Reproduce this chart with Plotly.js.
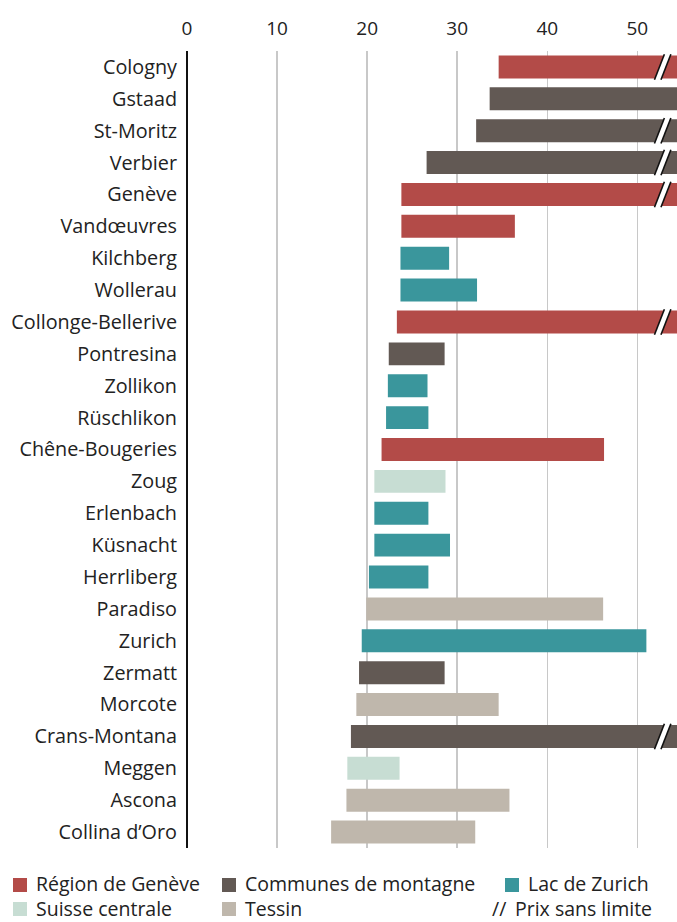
<!DOCTYPE html>
<html>
<head>
<meta charset="utf-8">
<script src="https://cdn.plot.ly/plotly-3.0.1.min.js"></script>
<style>
  html, body { margin: 0; padding: 0; background: #fff; }
  #chart { width: 677px; height: 922px; }
</style>
</head>
<body>
<div id="chart"></div>
<script>
// ---------- DATA ----------
const cities = ["Cologny", "Gstaad", "St-Moritz", "Verbier", "Genève", "Vandœuvres", "Kilchberg",
  "Wollerau", "Collonge-Bellerive", "Pontresina", "Zollikon", "Rüschlikon", "Chêne-Bougeries",
  "Zoug", "Erlenbach", "Küsnacht", "Herrliberg", "Paradiso", "Zurich", "Zermatt", "Morcote",
  "Crans-Montana", "Meggen", "Ascona", "Collina d’Oro"];
const regions = ["geneve", "montagne", "montagne", "montagne", "geneve", "geneve", "zurich",
  "zurich", "geneve", "montagne", "zurich", "zurich", "geneve",
  "centrale", "zurich", "zurich", "zurich", "tessin", "zurich", "montagne", "tessin",
  "montagne", "centrale", "tessin", "tessin"];
const lowValues = [34.6, 33.6, 32.1, 26.6, 23.8, 23.8, 23.7,
  23.7, 23.3, 22.4, 22.3, 22.1, 21.6,
  20.8, 20.8, 20.8, 20.2, 19.9, 19.4, 19.1, 18.8,
  18.2, 17.8, 17.7, 16.0];
// null = "Prix sans limite"
const highValues = [null, 56.0, null, null, null, 36.4, 29.1,
  32.2, null, 28.6, 26.7, 26.8, 46.3,
  28.7, 26.8, 29.2, 26.8, 46.2, 51.0, 28.6, 34.6,
  null, 23.6, 35.8, 32.0];
const regionKeys = ["geneve", "montagne", "zurich", "centrale", "tessin"];
const regionNames = ["Région de Genève", "Communes de montagne", "Lac de Zurich", "Suisse centrale", "Tessin"];
const regionColors = ["#B34B48", "#625954", "#3A969C", "#C7DDD3", "#BFB7AC"];
const tickValues = [0, 10, 20, 30, 40, 50];
const unlimitedLabel = "Prix sans limite";

// ---------- LAYOUT CONSTANTS ----------
const W = 677, H = 922;
const ML = 187, MR = 0, MT = 51, MB = 74;
const X_MAX = 54.4;
const UNLIMITED_END = 70;
const FONT = '"Open Sans", "Noto Sans", sans-serif';
const TXT = "#222222";

const traces = regionKeys.map((key, k) => {
  const y = [], base = [], x = [];
  cities.forEach((c, i) => {
    if (regions[i] !== key) return;
    const hi = highValues[i] === null ? UNLIMITED_END : highValues[i];
    y.push(c); base.push(lowValues[i]); x.push(hi - lowValues[i]);
  });
  return {
    type: "bar", orientation: "h", name: regionNames[k],
    y: y, x: x, base: base,
    marker: { color: regionColors[k], line: { width: 0 } },
    width: 0.72, showlegend: false, hoverinfo: "skip"
  };
});

// break marks "//" on unlimited bars
const shapes = [];
const bx = 51.9, slant = 1.1, gapW = 0.72, hh = 0.4;
cities.forEach((c, i) => {
  if (highValues[i] !== null) return;
  const yb = i + hh, yt = i - hh;
  shapes.push({
    type: "path", xref: "x", yref: "y", layer: "above",
    path: `M ${bx} ${yb} L ${bx + gapW} ${yb} L ${bx + gapW + slant} ${yt} L ${bx + slant} ${yt} Z`,
    fillcolor: "#ffffff", line: { width: 0 }
  });
  [0, gapW].forEach(off => {
    shapes.push({
      type: "line", xref: "x", yref: "y", layer: "above",
      x0: bx + off, y0: yb, x1: bx + off + slant, y1: yt,
      line: { color: "#111111", width: 1.6 }
    });
  });
});

// legend (drawn manually)
const px = v => (v - ML) / (W - ML - MR);
const py = v => (H - MB - v) / (H - MT - MB);
const LEG_FS = 19.5;
const legendPos = [
  { x: 13, y: 884 }, { x: 222, y: 884 }, { x: 505, y: 884 },
  { x: 13, y: 908 }, { x: 222, y: 908 }
];
const annotations = [];
regionKeys.forEach((key, k) => {
  const p = legendPos[k];
  shapes.push({
    type: "rect", xref: "paper", yref: "paper",
    x0: px(p.x), x1: px(p.x + 14), y0: py(p.y - 6), y1: py(p.y + 8),
    fillcolor: regionColors[k], line: { width: 0 }
  });
  annotations.push({
    xref: "paper", yref: "paper", x: px(p.x + 21), y: py(p.y),
    xanchor: "left", yanchor: "middle", showarrow: false,
    text: regionNames[k], font: { family: FONT, size: LEG_FS, color: TXT }
  });
});
annotations.push({
  xref: "paper", yref: "paper", x: px(490), y: py(908),
  xanchor: "left", yanchor: "middle", showarrow: false,
  text: "//", font: { family: FONT, size: LEG_FS, color: TXT }
});
annotations.push({
  xref: "paper", yref: "paper", x: px(513), y: py(908),
  xanchor: "left", yanchor: "middle", showarrow: false,
  text: unlimitedLabel, font: { family: FONT, size: LEG_FS, color: TXT }
});

const layout = {
  width: W, height: H,
  margin: { l: ML, r: MR, t: MT, b: MB, pad: 0 },
  paper_bgcolor: "#ffffff", plot_bgcolor: "#ffffff",
  barmode: "overlay",
  xaxis: {
    side: "top", range: [0, X_MAX], tickvals: tickValues, ticktext: tickValues.map(String),
    showgrid: true, gridcolor: "#c8c8c8", gridwidth: 1.5,
    zeroline: true, zerolinecolor: "#111111", zerolinewidth: 2.6,
    showline: false, ticks: "", ticklabelstandoff: 11,
    tickfont: { family: FONT, size: 19, color: TXT }, fixedrange: true
  },
  yaxis: {
    type: "category", categoryorder: "array", categoryarray: cities,
    autorange: "reversed", range: [cities.length - 0.5, -0.5],
    showgrid: false, zeroline: false, showline: false, ticks: "",
    ticklabelstandoff: 9,
    tickfont: { family: FONT, size: 19.8, color: TXT }, fixedrange: true
  },
  shapes: shapes,
  annotations: annotations,
  showlegend: false
};

Plotly.newPlot("chart", traces, layout, { displayModeBar: false, staticPlot: true });
</script>
</body>
</html>
